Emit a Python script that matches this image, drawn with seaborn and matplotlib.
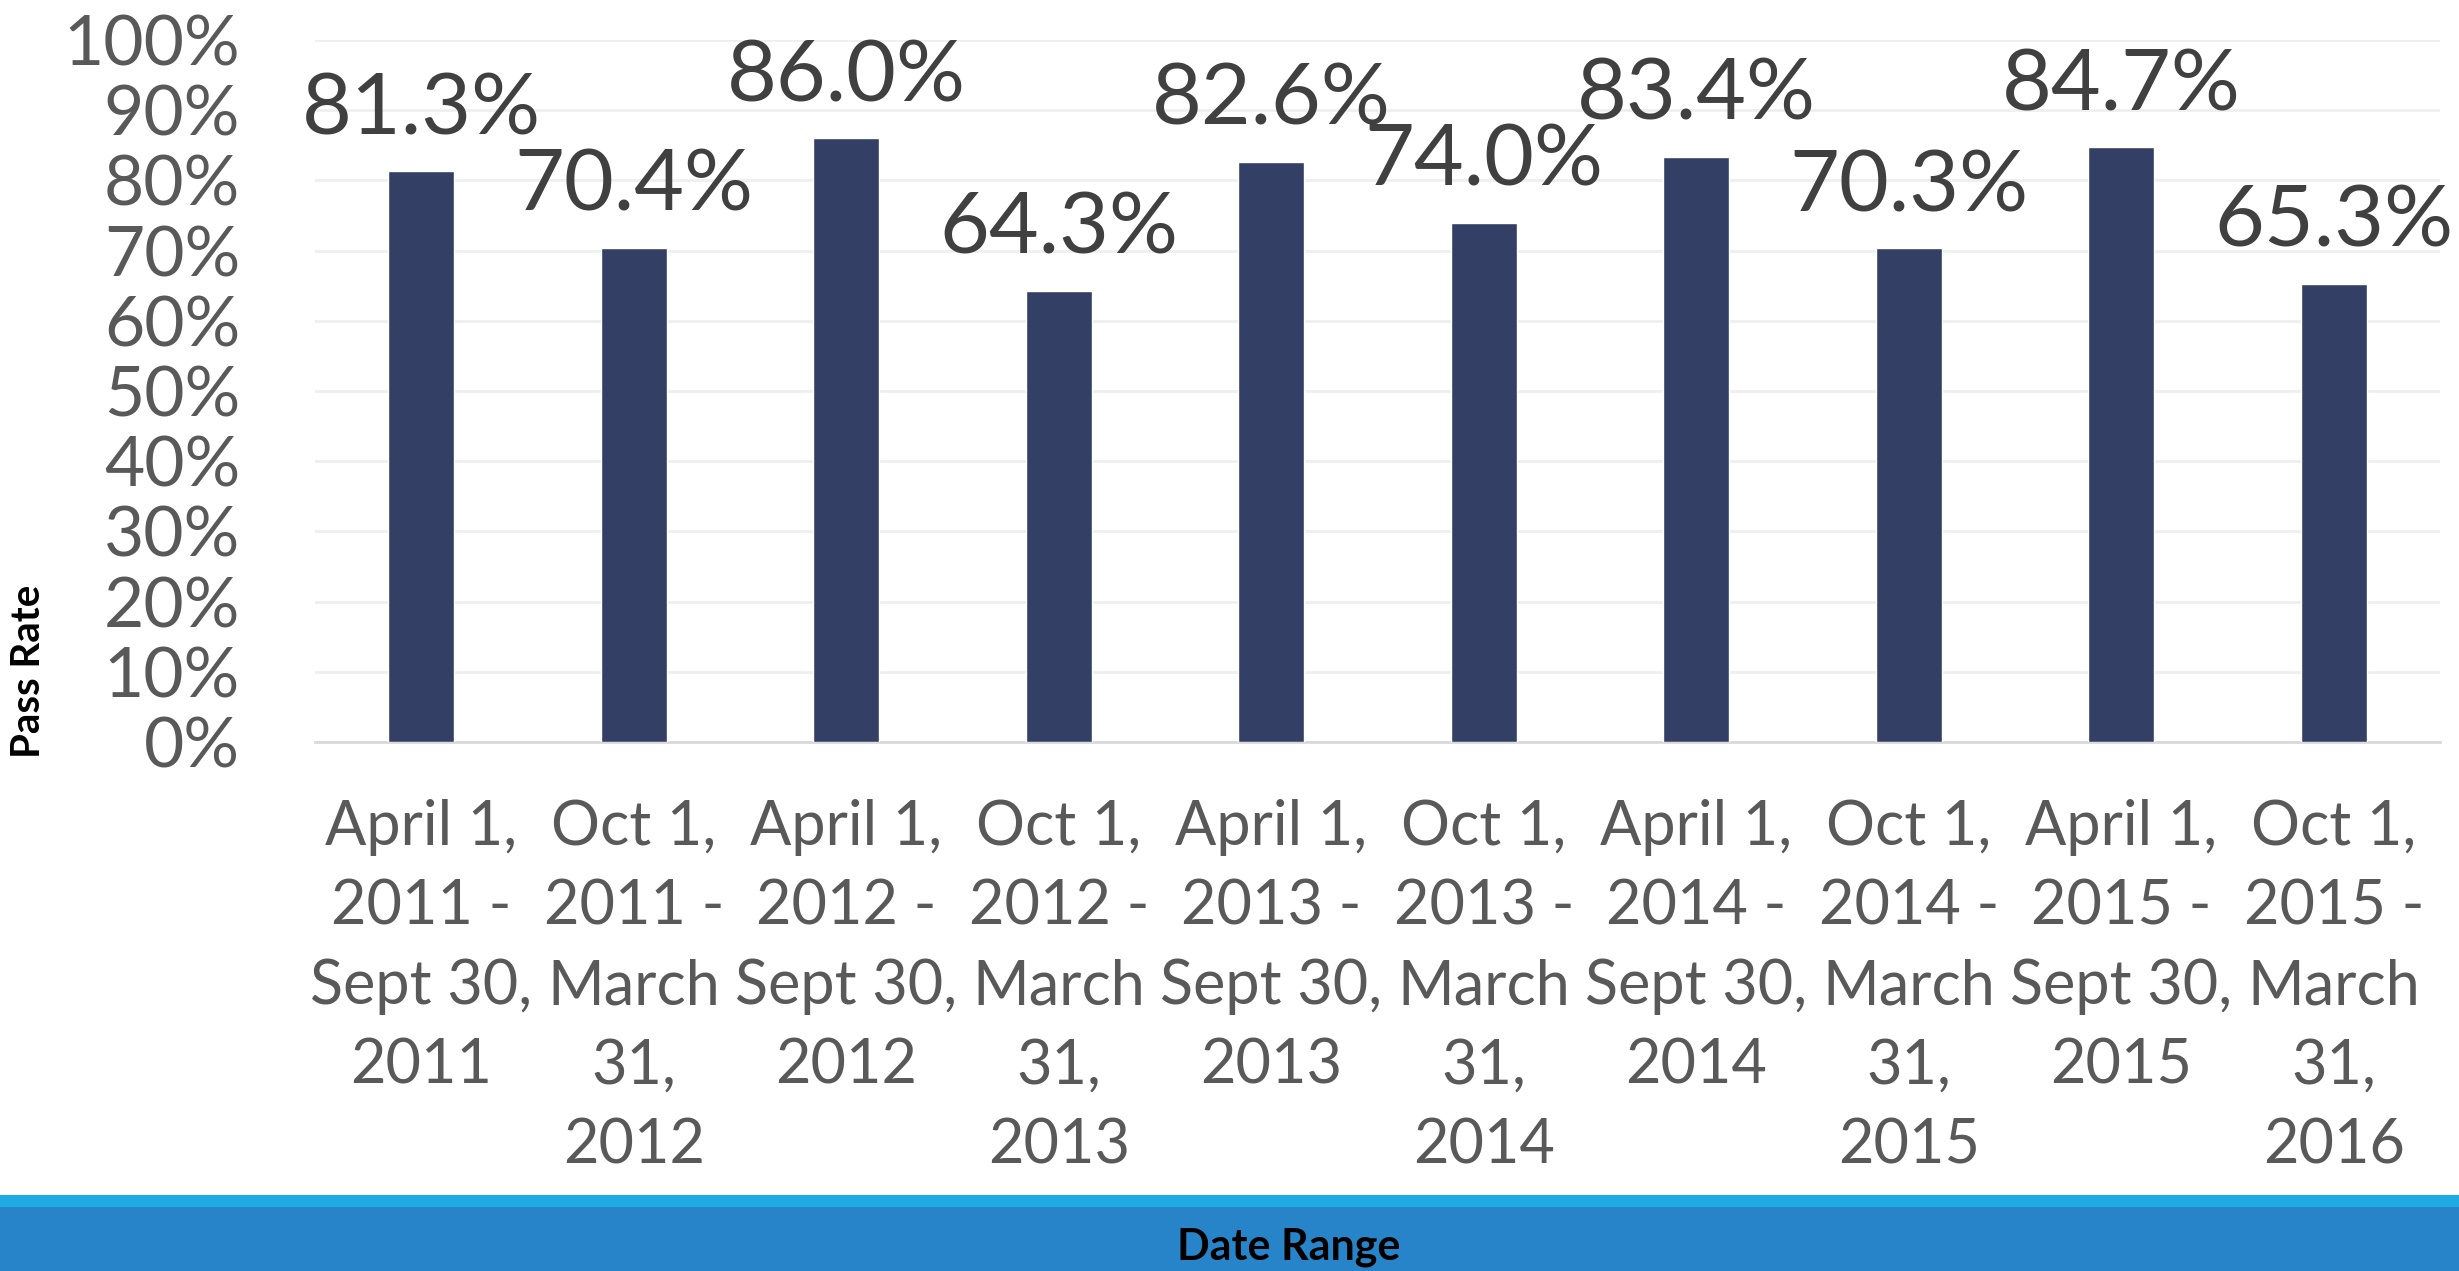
import matplotlib
matplotlib.use("Agg")
import matplotlib.pyplot as plt
import seaborn as sns
import pandas as pd
from matplotlib.patches import Rectangle
from matplotlib.ticker import FuncFormatter, MultipleLocator

categories = [
    "April 1,\n2011 -\nSept 30,\n2011",
    "Oct 1,\n2011 -\nMarch\n31,\n2012",
    "April 1,\n2012 -\nSept 30,\n2012",
    "Oct 1,\n2012 -\nMarch\n31,\n2013",
    "April 1,\n2013 -\nSept 30,\n2013",
    "Oct 1,\n2013 -\nMarch\n31,\n2014",
    "April 1,\n2014 -\nSept 30,\n2014",
    "Oct 1,\n2014 -\nMarch\n31,\n2015",
    "April 1,\n2015 -\nSept 30,\n2015",
    "Oct 1,\n2015 -\nMarch\n31,\n2016",
]
pass_rates = [0.813, 0.704, 0.860, 0.643, 0.826, 0.740, 0.834, 0.703, 0.847, 0.653]
value_labels = ["81.3%", "70.4%", "86.0%", "64.3%", "82.6%", "74.0%", "83.4%", "70.3%", "84.7%", "65.3%"]

sns.set_theme(style="white")
plt.rcParams['font.family'] = ['Lato', 'DejaVu Sans']

W, H = 2459, 1271
fig = plt.figure(figsize=(W / 100, H / 100), dpi=100)
ax = fig.add_axes([315 / W, 1 - 742 / H, (2440 - 315) / W, (742 - 40) / H])

df = pd.DataFrame({"cat": categories, "rate": pass_rates})
sns.barplot(data=df, x="cat", y="rate", color="#343F66", saturation=1, width=0.31, ax=ax, zorder=3)

ax.set_ylim(0, 1.0)
ax.yaxis.set_major_locator(MultipleLocator(0.1))
ax.yaxis.set_major_formatter(FuncFormatter(lambda v, p: f"{v*100:.0f}%"))
ax.grid(axis="y", color="#EFEFEF", linewidth=2, zorder=0)
ax.grid(axis="x", visible=False)
for s in ["top", "right", "left"]:
    ax.spines[s].set_visible(False)
ax.spines["bottom"].set_color("#D9D9D9")
ax.spines["bottom"].set_linewidth(2)

ax.tick_params(axis="y", length=0, pad=54, labelsize=50, labelcolor="#595959")
ax.tick_params(axis="x", length=0, pad=41, labelsize=44, labelcolor="#595959")
for t in ax.get_xticklabels():
    t.set_linespacing(1.49)
    t.set_verticalalignment("top")

for i, (v, lab) in enumerate(zip(pass_rates, value_labels)):
    ax.annotate(lab, (i, v), xytext=(0, 16), textcoords="offset points",
                ha="center", va="bottom", fontsize=62, color="#404040", zorder=5,
                annotation_clip=False)

ax.set_xlabel("")
ax.set_ylabel("")
fig.text(28 / W, 1 - 671 / H, "Pass Rate", rotation=90, ha="center", va="center",
         fontsize=29, fontweight="bold", color="black")

# bottom bands
fig.patches.append(Rectangle((0, 0), 1, (H - 1207) / H, transform=fig.transFigure,
                             facecolor="#2784C8", edgecolor="none", zorder=0))
fig.patches.append(Rectangle((0, (H - 1207) / H), 1, 12 / H, transform=fig.transFigure,
                             facecolor="#1EABE3", edgecolor="none", zorder=0))
fig.text(0.524, 1 - 1247 / H, "Date Range", ha="center", va="center",
         fontsize=31, fontweight="bold", color="black")

fig.savefig("out.png", dpi=100)
